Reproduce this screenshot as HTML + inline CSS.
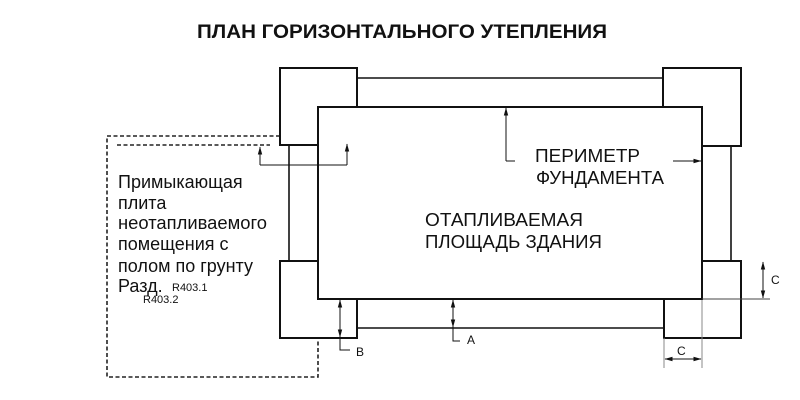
<!DOCTYPE html>
<html><head><meta charset="utf-8"><style>
html,body{margin:0;padding:0;background:#fff;}
svg{display:block;}
text{font-family:"Liberation Sans","DejaVu Sans",sans-serif;fill:#111;}
</style></head><body>
<svg width="800" height="400" viewBox="0 0 800 400" xmlns="http://www.w3.org/2000/svg">
<defs>
<marker id="ar" markerWidth="8" markerHeight="6" refX="7.5" refY="3" orient="auto" markerUnits="userSpaceOnUse">
<path d="M0,0.8 L8,3 L0,5.2 Z" fill="#111"/>
</marker>
</defs>
<rect width="800" height="400" fill="#fff"/>
<text x="402" y="38" text-anchor="middle" font-size="19" font-weight="bold" textLength="410" lengthAdjust="spacingAndGlyphs">ПЛАН ГОРИЗОНТАЛЬНОГО УТЕПЛЕНИЯ</text>

<!-- dashed adjoining slab -->
<g stroke="#222" stroke-width="1.6" fill="none" stroke-dasharray="4,2.5">
<path d="M280,136 L107,136 L107,377 L318,377 L318,338"/>
<path d="M117,145 L270,145"/>
</g>

<!-- strips -->
<g stroke="#111" stroke-width="1.6" fill="none">
<path d="M357,78 L663,78"/>
<path d="M357,328 L664,328"/>
<path d="M731,146 L731,261"/>
<path d="M289,145 L289,261"/>
</g>

<!-- corners -->
<g stroke="#111" stroke-width="2" fill="#fff">
<rect x="280" y="68" width="77" height="77"/>
<rect x="663" y="68" width="78" height="78"/>
<rect x="280" y="261" width="77" height="77"/>
<rect x="664" y="261" width="77" height="77"/>
</g>

<!-- main rect -->
<rect x="318" y="107" width="384" height="192" stroke="#111" stroke-width="2" fill="#fff"/>

<!-- extension lines -->
<g stroke="#444" stroke-width="1" fill="none">
<path d="M702,299 L770,299"/>
</g>
<g stroke="#888" stroke-width="1" fill="none">
<path d="M702,300 L702,368"/>
<path d="M664,338 L664,368"/>
</g>

<!-- dimension / leader lines -->
<g stroke="#111" stroke-width="1" fill="none">
<path d="M260,165 L260,147" marker-end="url(#ar)"/>
<path d="M260,165 L347,165"/>
<path d="M347,165 L347,144" marker-end="url(#ar)"/>
<path d="M506,161 L506,108" marker-end="url(#ar)"/>
<path d="M506,161 L515,161"/>
<path d="M673,161 L701,161" marker-end="url(#ar)"/>
<path d="M340,320 L340,300" marker-end="url(#ar)"/>
<path d="M340,320 L340,337" marker-end="url(#ar)"/>
<path d="M340,337 L340,350 L350,350"/>
<path d="M453,315 L453,300" marker-end="url(#ar)"/>
<path d="M453,315 L453,327" marker-end="url(#ar)"/>
<path d="M453,327 L453,341 L460,341"/>
<path d="M763,280 L763,262" marker-end="url(#ar)"/>
<path d="M763,280 L763,298" marker-end="url(#ar)"/>
<path d="M683,359 L665,359" marker-end="url(#ar)"/>
<path d="M683,359 L701,359" marker-end="url(#ar)"/>
</g>

<!-- labels -->
<text x="535" y="162" font-size="18" textLength="105" lengthAdjust="spacingAndGlyphs">ПЕРИМЕТР</text>
<text x="536" y="184" font-size="18" textLength="128" lengthAdjust="spacingAndGlyphs">ФУНДАМЕНТА</text>
<text x="425" y="226" font-size="18" textLength="158" lengthAdjust="spacingAndGlyphs">ОТАПЛИВАЕМАЯ</text>
<text x="425" y="248" font-size="18" textLength="177" lengthAdjust="spacingAndGlyphs">ПЛОЩАДЬ ЗДАНИЯ</text>

<g font-size="18">
<text x="118" y="188">Примыкающая</text>
<text x="118" y="209">плита</text>
<text x="118" y="229" textLength="149" lengthAdjust="spacingAndGlyphs">неотапливаемого</text>
<text x="118" y="250">помещения с</text>
<text x="118" y="272">полом по грунту</text>
<text x="118" y="292">Разд.</text>
</g>
<text x="172" y="291" font-size="11">R403.1</text>
<text x="143" y="303" font-size="11">R403.2</text>

<text x="356" y="356" font-size="12">B</text>
<text x="467" y="344" font-size="12">A</text>
<text x="771" y="284" font-size="12">C</text>
<text x="677" y="355" font-size="12">C</text>
</svg>
</body></html>
